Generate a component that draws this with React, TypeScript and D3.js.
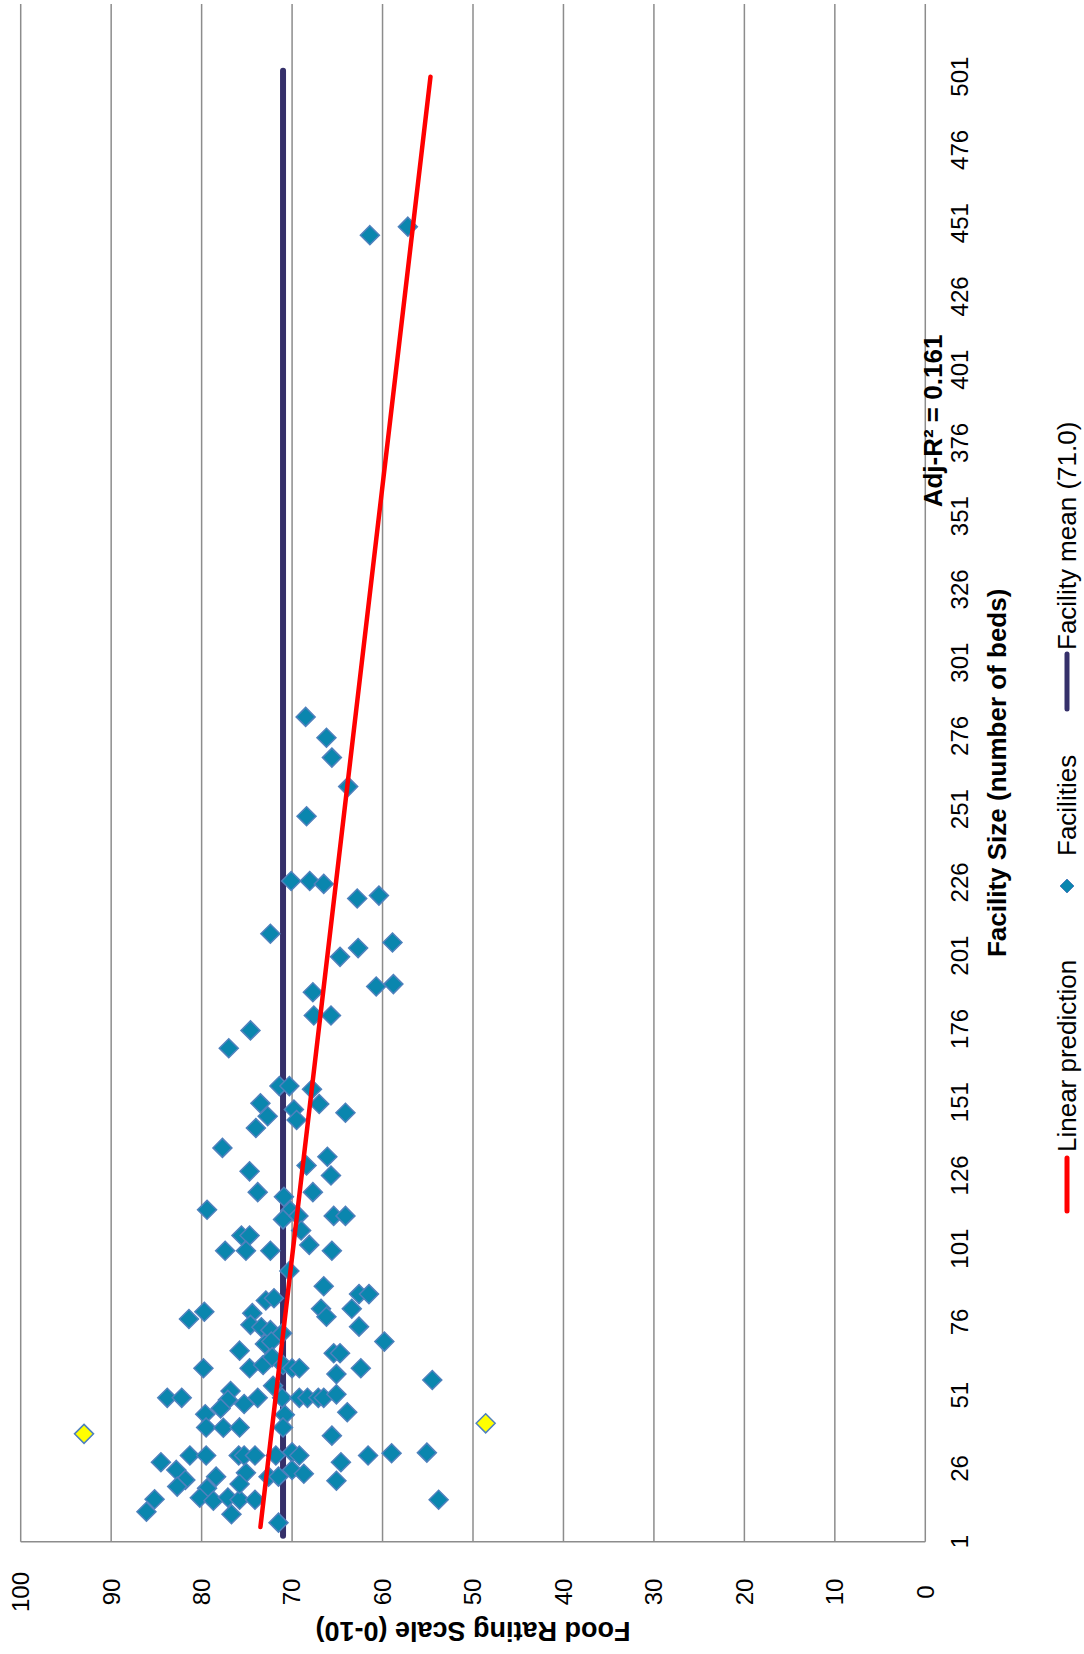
import React from 'react';
import * as d3 from 'd3';

const bedTicks = [1, 26, 51, 76, 101, 126, 151, 176, 201, 226, 251, 276, 301, 326, 351, 376, 401, 426, 451, 476, 501];
const ratingTicks = [0, 10, 20, 30, 40, 50, 60, 70, 80, 90, 100];

const facilityBeds = [
  282.5, 275.4, 268.6, 258.7, 248.6,
  226.5, 226.5, 225.5, 220.5, 221.5, 208.5, 205.5, 203.6, 200.6, 190.5, 191.3, 188.5, 180.6, 180.6, 175.5, 169.4,
  156.5, 156.5, 155.4, 150.6, 150.4, 147.4, 146.2, 148.5, 144.9, 142.2, 135.4, 132.4, 129.4, 126.0, 127.4, 120.3,
  118.7, 120.3, 114.3, 114.0, 111.0, 112.2, 112.2, 112.2, 105.5, 105.5, 107.2, 100.3, 100.3, 100.3, 102.3, 100.3,
  93.4, 88.2, 83.3, 84.1, 85.5, 85.5, 79.5, 79.0, 80.5, 80.5, 77.0,
  75.0, 74.2, 73.2, 72.1, 77.8, 74.4, 69.3, 66.2, 68.5, 69.3, 65.3, 65.3, 60.2, 60.2, 61.3, 64.0, 61.3, 60.2, 60.2,
  58.2, 60.2, 56.2, 50.1, 50.1, 52.4, 49.4, 48.0, 50.1, 54.2, 50.1, 50.1, 50.1, 50.1, 50.1, 51.3, 46.5, 44.5, 44.3,
  45.2, 40.0, 39.9, 40.0, 40.0, 37.2, 28.1, 25.5, 30.4, 30.4, 30.4, 30.4, 30.4, 30.4, 31.5, 30.4, 30.4, 31.2, 31.4,
  22.1, 19.8, 23.2, 24.5, 23.2, 23.2, 25.5, 24.2, 28.1, 21.8, 19.2, 16.0, 15.0, 16.1, 15.3, 15.3, 15.5, 11.2, 10.4,
  7.5, 15.3, 20.7,
  446.9, 449.8,
];
const facilityRating = [
  68.5, 66.2, 65.6, 63.8, 68.4,
  70.1, 68.05, 66.5, 62.8, 60.4, 72.4, 58.9, 62.7, 64.7, 60.7, 58.8, 67.7, 67.6, 65.7, 74.6, 77.0,
  71.4, 70.3, 67.8, 73.5, 67.0, 64.1, 72.7, 69.8, 69.5, 74.0, 77.7, 66.1, 68.4, 65.7, 74.7, 73.8,
  70.9, 67.7, 79.4, 70.2, 71.0, 69.3, 65.4, 64.1, 75.6, 74.7, 69.0, 77.4, 75.1, 72.4, 68.1, 65.6,
  70.3, 66.5, 72.9, 72.0, 62.6, 61.5, 79.7, 74.4, 66.8, 63.4, 81.4,
  74.6, 73.4, 72.4, 71.1, 66.2, 62.6, 59.8, 75.8, 73.0, 72.3, 65.4, 64.7, 79.8, 74.7, 73.2, 72.2, 71.0, 70.0, 69.2,
  65.1, 62.4, 54.5, 83.8, 82.2, 76.8, 77.1, 75.3, 73.8, 72.1, 71.1, 69.2, 68.3, 67.1, 66.5, 65.1, 77.9, 79.6, 70.8,
  63.9, 79.5, 77.6, 75.8, 71.0, 65.6, 84.5, 82.8, 81.3, 79.5, 75.9, 75.3, 74.1, 71.8, 70.0, 69.2, 61.6, 59.0, 55.1,
  81.8, 82.7, 78.4, 75.1, 72.6, 71.5, 70.0, 68.7, 64.6, 65.1, 79.4, 80.2, 78.7, 77.1, 75.8, 74.1, 85.2, 86.1, 76.7,
  71.5, 53.8, 75.8,
  61.4, 57.2,
];

const outlierBeds = [37.8, 41.4];
const outlierRating = [93.0, 48.6];

const meanBeds = [3, 503];
const meanRating = [71.0, 71.0];
const predBeds = [6, 501];
const predRating = [73.5, 54.7];

const FONT = "'Liberation Sans', Arial, Helvetica, sans-serif";

function diamond(cx: number, cy: number, r: number) {
  return `M${cx},${cy - r}L${cx + r},${cy}L${cx},${cy + r}L${cx - r},${cy}Z`;
}

export default function App() {
  const W = 1084;
  const H = 1654;
  const x = d3.scaleLinear().domain([0, 100]).range([925.3, 20.7]);
  const y = d3.scaleLinear().domain([1, 525.8]).range([1541.7, 4]);
  const top = y(525.8);
  const bottom = y(1);

  const line = d3
    .line<[number, number]>()
    .x((d) => x(d[1]))
    .y((d) => y(d[0]));

  const meanPts: [number, number][] = meanBeds.map((b, i) => [b, meanRating[i]]);
  const predPts: [number, number][] = predBeds.map((b, i) => [b, predRating[i]]);

  const markerFill = '#0a86ae';
  const markerStroke = '#4f81bd';

  return (
    <svg
      width={W}
      height={H}
      style={{ position: 'absolute', left: 0, top: 0, background: '#fff' }}
      fontFamily={FONT}
    >
      <rect x={0} y={0} width={W} height={H} fill="#fff" />
      {/* gridlines */}
      {ratingTicks.map((t) => (
        <line
          key={'g' + t}
          x1={x(t)}
          x2={x(t)}
          y1={top}
          y2={bottom}
          stroke="#8c8c8c"
          strokeWidth={1.5}
        />
      ))}
      {/* bottom axis line */}
      <line x1={x(100)} x2={x(0)} y1={bottom} y2={bottom} stroke="#8c8c8c" strokeWidth={1.5} />

      {/* rating tick labels */}
      {ratingTicks.map((t) => (
        <text
          key={'rt' + t}
          transform={`translate(${x(t)},1592) rotate(-90)`}
          textAnchor="middle"
          dy="0.35em"
          fontSize={24}
          fill="#000"
        >
          {t}
        </text>
      ))}
      {/* beds tick labels */}
      {bedTicks.map((t) => (
        <text
          key={'bt' + t}
          transform={`translate(959.6,${y(t)}) rotate(-90)`}
          textAnchor="middle"
          dy="0.35em"
          fontSize={24}
          fill="#000"
        >
          {t}
        </text>
      ))}

      {/* axis titles */}
      <text
        transform={`translate(${(x(0) + x(100)) / 2},1631) rotate(180)`}
        textAnchor="middle"
        dy="0.35em"
        fontSize={27}
        fontWeight="bold"
      >
        Food Rating Scale (0-10)
      </text>
      <text
        transform={`translate(996.5,${(top + bottom) / 2}) rotate(-90)`}
        textAnchor="middle"
        dy="0.35em"
        fontSize={26}
        fontWeight="bold"
      >
        Facility Size (number of beds)
      </text>

      {/* mean line */}
      <path d={line(meanPts) || ''} stroke="#35306a" strokeWidth={6} fill="none" strokeLinecap="round" />

      {/* points */}
      {facilityBeds.map((b, i) => (
        <path
          key={'p' + i}
          d={diamond(x(facilityRating[i]), y(b), 9.5)}
          fill={markerFill}
          stroke={markerStroke}
          strokeWidth={1.5}
        />
      ))}
      {outlierBeds.map((b, i) => (
        <path
          key={'o' + i}
          d={diamond(x(outlierRating[i]), y(b), 9.5)}
          fill="#ffff00"
          stroke={markerStroke}
          strokeWidth={1.5}
        />
      ))}

      {/* prediction line */}
      <path d={line(predPts) || ''} stroke="#ff0000" strokeWidth={4.5} fill="none" strokeLinecap="round" />

      {/* annotation */}
      <text
        transform={`translate(933,421) rotate(-90)`}
        textAnchor="middle"
        dy="0.35em"
        fontSize={26}
        fontWeight="bold"
      >
        Adj-R² = 0.161
      </text>

      {/* legend */}
      <line x1={1067} x2={1067} y1={1211} y2={1158} stroke="#ff0000" strokeWidth={5} strokeLinecap="round" />
      <text transform={`translate(1067,1152) rotate(-90)`} dy="0.35em" fontSize={26}>
        Linear prediction
      </text>
      <path d={diamond(1067, 886, 7)} fill={markerFill} stroke={markerStroke} strokeWidth={1} />
      <text transform={`translate(1067,856) rotate(-90)`} dy="0.35em" fontSize={26}>
        Facilities
      </text>
      <line x1={1067} x2={1067} y1={709} y2={654} stroke="#35306a" strokeWidth={5} strokeLinecap="round" />
      <text transform={`translate(1067,650) rotate(-90)`} dy="0.35em" fontSize={26}>
        Facility mean (71.0)
      </text>
    </svg>
  );
}
